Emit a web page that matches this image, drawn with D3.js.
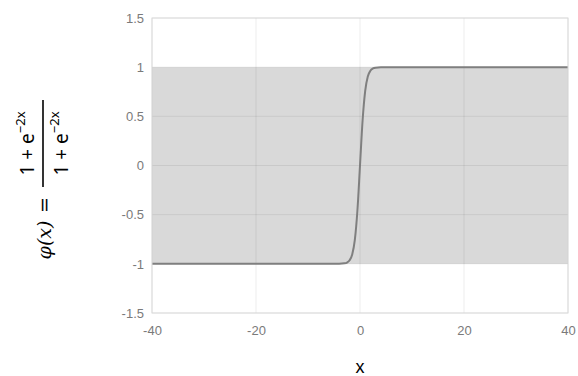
<!doctype html>
<html lang="en">
<head>
<meta charset="utf-8">
<title>tanh</title>
<script src="https://d3js.org/d3.v7.min.js"></script>
<style>
    body { margin: 0; background: #fff; }
    .tick text { font-family: "Liberation Sans", Arial, sans-serif; font-size: 13px; fill: #7a7a7a; }
</style>
</head>
<body>
<svg width="578" height="376"></svg>
<script>
    // values
    var xs = [-40, -4, -3, -2.5, -2, -1.5, -1, -0.5, 0, 0.5, 1, 1.5, 2, 2.5, 3, 4, 40];
    var ys = [-1, -0.999, -0.995, -0.987, -0.964, -0.905, -0.76, -0.46, 0, 0.46, 0.76, 0.905, 0.964, 0.987, 0.995, 0.999, 1];
    var band = [-1, 1];
    var xTicks = [-40, -20, 0, 20, 40];
    var yTicks = [-1.5, -1, -0.5, 0, 0.5, 1, 1.5];

    var svg = d3.select("svg"),
        width = +svg.attr("width"),
        height = +svg.attr("height");
    var margin = {top: 18, right: 10, bottom: 63, left: 152};

    var x = d3.scaleLinear().domain([-40, 40]).range([margin.left, width - margin.right]);
    var y = d3.scaleLinear().domain([-1.5, 1.5]).range([height - margin.bottom, margin.top]);

    var pts = xs.map(function (d, i) { return [d, ys[i]]; });

    // shaded band
    svg.append("rect")
        .attr("x", x(-40))
        .attr("y", y(band[1]))
        .attr("width", x(40) - x(-40))
        .attr("height", y(band[0]) - y(band[1]))
        .attr("fill", "#d9d9d9");

    // grid
    var grid = svg.append("g").attr("stroke", "#000").attr("stroke-opacity", 0.07);
    grid.selectAll(".gx").data(xTicks).enter().append("line")
        .attr("x1", function (d) { return x(d); }).attr("x2", function (d) { return x(d); })
        .attr("y1", y(1.5)).attr("y2", y(-1.5));
    grid.selectAll(".gy").data(yTicks).enter().append("line")
        .attr("y1", function (d) { return y(d); }).attr("y2", function (d) { return y(d); })
        .attr("x1", x(-40)).attr("x2", x(40));

    // curve
    svg.append("path")
        .datum(pts)
        .attr("fill", "none")
        .attr("stroke", "#7f7f7f")
        .attr("stroke-width", 2)
        .attr("d", d3.line()
            .x(function (d) { return x(d[0]); })
            .y(function (d) { return y(d[1]); })
            .curve(d3.curveMonotoneX));

    // box
    svg.append("rect")
        .attr("x", x(-40)).attr("y", y(1.5))
        .attr("width", x(40) - x(-40)).attr("height", y(-1.5) - y(1.5))
        .attr("fill", "none").attr("stroke", "#dadada");

    var fmt = function (d) { return d3.format("")(d).replace("−", "-"); };

    svg.append("g")
        .attr("transform", "translate(0," + y(-1.5) + ")")
        .call(d3.axisBottom(x).tickValues(xTicks).tickSize(0).tickPadding(13).tickFormat(fmt))
        .call(function (g) { g.select(".domain").remove(); });

    svg.append("g")
        .attr("transform", "translate(" + x(-40) + ",0)")
        .call(d3.axisLeft(y).tickValues(yTicks).tickSize(0).tickPadding(8).tickFormat(fmt))
        .call(function (g) { g.select(".domain").remove(); });

    // x label
    svg.append("text")
        .attr("x", x(0)).attr("y", 373)
        .attr("text-anchor", "middle")
        .style("font-family", "Liberation Sans, Arial, sans-serif")
        .style("font-size", "18px")
        .text("x");

    // y label, the formula, rotated
    var lab = svg.append("g").attr("transform", "rotate(-90)");
    lab.append("text")
        .attr("x", -240).attr("y", 51)
        .attr("text-anchor", "middle")
        .style("font-family", "DejaVu Serif, serif")
        .style("font-style", "italic")
        .style("font-size", "19px")
        .text("φ(x)");
    lab.append("text")
        .attr("x", -205).attr("y", 51)
        .attr("text-anchor", "middle")
        .style("font-family", "DejaVu Serif, serif")
        .style("font-size", "19px")
        .text("=");
    lab.append("line")
        .attr("x1", -187).attr("x2", -100)
        .attr("y1", 43).attr("y2", 43)
        .attr("stroke", "#000").attr("stroke-width", 1.6);
    [34, 68].forEach(function (b) {
        var t = lab.append("text")
            .attr("x", -143.5).attr("y", b)
            .attr("text-anchor", "middle")
            .style("font-family", "Noto Sans, sans-serif")
            .style("font-size", "19px");
        t.append("tspan").text("1 + e");
        t.append("tspan").attr("dy", -9).style("font-size", "13px").text("−2x");
    });
</script>
</body>
</html>
